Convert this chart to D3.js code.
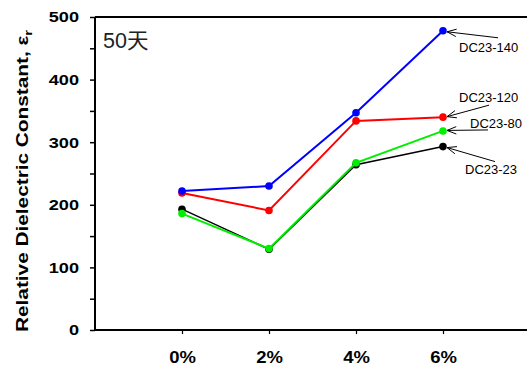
<!DOCTYPE html>
<html>
<head>
<meta charset="utf-8">
<script src="https://cdn.jsdelivr.net/npm/d3@7"></script>
<style>
  html, body { margin: 0; padding: 0; background: #fff; }
  svg { display: block; }
  text { font-family: Arial, "Liberation Sans", "Noto Sans CJK SC", sans-serif; }
</style>
</head>
<body>
<svg id="chart" width="527" height="367"></svg>
<script>
// Polymer content categories along the x axis
const categories = ["0%", "2%", "4%", "6%"];

// Relative dielectric constant after 50 days, one array per mix
const dc23_23  = [193, 129, 264, 293];
const dc23_80  = [186, 130, 267, 318];
const dc23_120 = [219, 191, 334, 340];
const dc23_140 = [222, 230, 347, 478];

const yTicks = [0, 100, 200, 300, 400, 500];
const yMinorTicks = [50, 150, 250, 350, 450];

const series = [
  { name: "DC23-23",  values: dc23_23,  color: "#000000", width: 1.5 },
  { name: "DC23-120", values: dc23_120, color: "#ff0000", width: 2 },
  { name: "DC23-140", values: dc23_140, color: "#0000ff", width: 2 },
  { name: "DC23-80",  values: dc23_80,  color: "#00ee00", width: 2 }
];

// Callout placement for each series label (offsets from the last point)
const callouts = {
  "DC23-140": { tx: 16, ty: 21, ax: 55, ay: 7 },
  "DC23-120": { tx: 16, ty: -15, ax: 46, ay: -12 },
  "DC23-80":  { tx: 27, ty: -3, ax: 45, ay: -1 },
  "DC23-23":  { tx: 22, ty: 27, ax: 52, ay: 15 }
};

const svg = d3.select("#chart");
const plotLeft = 95, plotRight = 530, plotTop = 17, plotBottom = 330;

const x = d3.scaleLinear().domain([-1, categories.length]).range([plotLeft, plotRight]);
const y = d3.scaleLinear().domain([0, 500]).range([plotBottom, plotTop]);

// stretch bold axis labels a little wider than the native font
function stretch(sel, k) {
  sel.each(function () {
    const w = this.getComputedTextLength();
    d3.select(this).attr("textLength", w * k).attr("lengthAdjust", "spacingAndGlyphs");
  });
}

// frame top edge
svg.append("line").attr("x1", plotLeft).attr("x2", plotRight).attr("y1", plotTop).attr("y2", plotTop)
  .attr("stroke", "#000").attr("stroke-width", 2);

// y axis
const yAxis = d3.axisLeft(y).tickValues(yTicks).tickSize(5).tickPadding(11).tickFormat(d3.format("d"));
const gy = svg.append("g").attr("transform", `translate(${plotLeft},0)`).call(yAxis);
gy.select(".domain").attr("stroke-width", 2).attr("d", `M0,${plotTop}V${plotBottom}`);
gy.selectAll(".tick line").attr("stroke-width", 1.5);
gy.selectAll(".tick text").attr("font-size", 15.5).attr("font-weight", "bold")
  .attr("font-family", "Arial, 'Liberation Sans', sans-serif").call(stretch, 1.17);
const gyMinor = svg.append("g").attr("transform", `translate(${plotLeft},0)`)
  .call(d3.axisLeft(y).tickValues(yMinorTicks).tickSize(5).tickFormat(""));
gyMinor.select(".domain").remove();
gyMinor.selectAll(".tick line").attr("stroke-width", 1.5);

// x axis
const xAxis = d3.axisBottom(x).tickValues(d3.range(categories.length))
  .tickFormat(i => categories[i]).tickSize(4).tickPadding(17);
const gx = svg.append("g").attr("transform", `translate(0,${plotBottom})`).call(xAxis);
gx.select(".domain").attr("stroke-width", 2).attr("d", `M${plotLeft},0H${plotRight}`);
gx.selectAll(".tick line").attr("stroke-width", 1.2);
gx.selectAll(".tick text").attr("font-size", 16.5).attr("font-weight", "bold")
  .attr("font-family", "Arial, 'Liberation Sans', sans-serif").call(stretch, 1.12);

// y axis title
const title = svg.append("text")
  .attr("transform", `translate(28,${(30 + 332) / 2}) rotate(-90)`)
  .attr("text-anchor", "middle")
  .attr("font-size", 16.5).attr("font-weight", "bold");
title.append("tspan").text("Relative Dielectric Constant, \u03b5");
title.append("tspan").attr("font-size", 11.5).attr("dy", 4).text("r");
title.attr("textLength", 302).attr("lengthAdjust", "spacingAndGlyphs");

// panel caption
svg.append("text").attr("x", 103).attr("y", 48).attr("font-size", 21.5).attr("fill", "#222")
  .text("50天");

// series lines and markers
const line = d3.line().x((d, i) => x(i)).y(d => y(d));
series.forEach(s => {
  const g = svg.append("g");
  g.append("path").datum(s.values).attr("d", line)
    .attr("fill", "none").attr("stroke", s.color).attr("stroke-width", s.width);
  g.selectAll("circle").data(s.values).join("circle")
    .attr("cx", (d, i) => x(i)).attr("cy", d => y(d)).attr("r", 3.8).attr("fill", s.color);
});

// callouts with open arrowheads pointing at the last point
series.forEach(s => {
  const c = callouts[s.name];
  const last = s.values.length - 1;
  const px = x(last), py = y(s.values[last]);
  const tipX = px + 4, tipY = py + (c.ay > 0 ? 1 : c.ay < 0 ? -0.5 : 0.5);
  const tailX = px + c.ax, tailY = py + c.ay;
  svg.append("line").attr("x1", tailX).attr("y1", tailY).attr("x2", tipX).attr("y2", tipY)
    .attr("stroke", "#000").attr("stroke-width", 1);
  const ang = Math.atan2(tailY - tipY, tailX - tipX);
  const len = 10, spread = 0.38;
  const p1 = [tipX + len * Math.cos(ang + spread), tipY + len * Math.sin(ang + spread)];
  const p2 = [tipX + len * Math.cos(ang - spread), tipY + len * Math.sin(ang - spread)];
  svg.append("path").attr("d", `M${p1[0]},${p1[1]}L${tipX},${tipY}L${p2[0]},${p2[1]}`)
    .attr("fill", "none").attr("stroke", "#000").attr("stroke-width", 1);
  svg.append("text").attr("x", px + c.tx).attr("y", py + c.ty)
    .attr("font-size", 13).attr("fill", "#000").text(s.name);
});
</script>
</body>
</html>
